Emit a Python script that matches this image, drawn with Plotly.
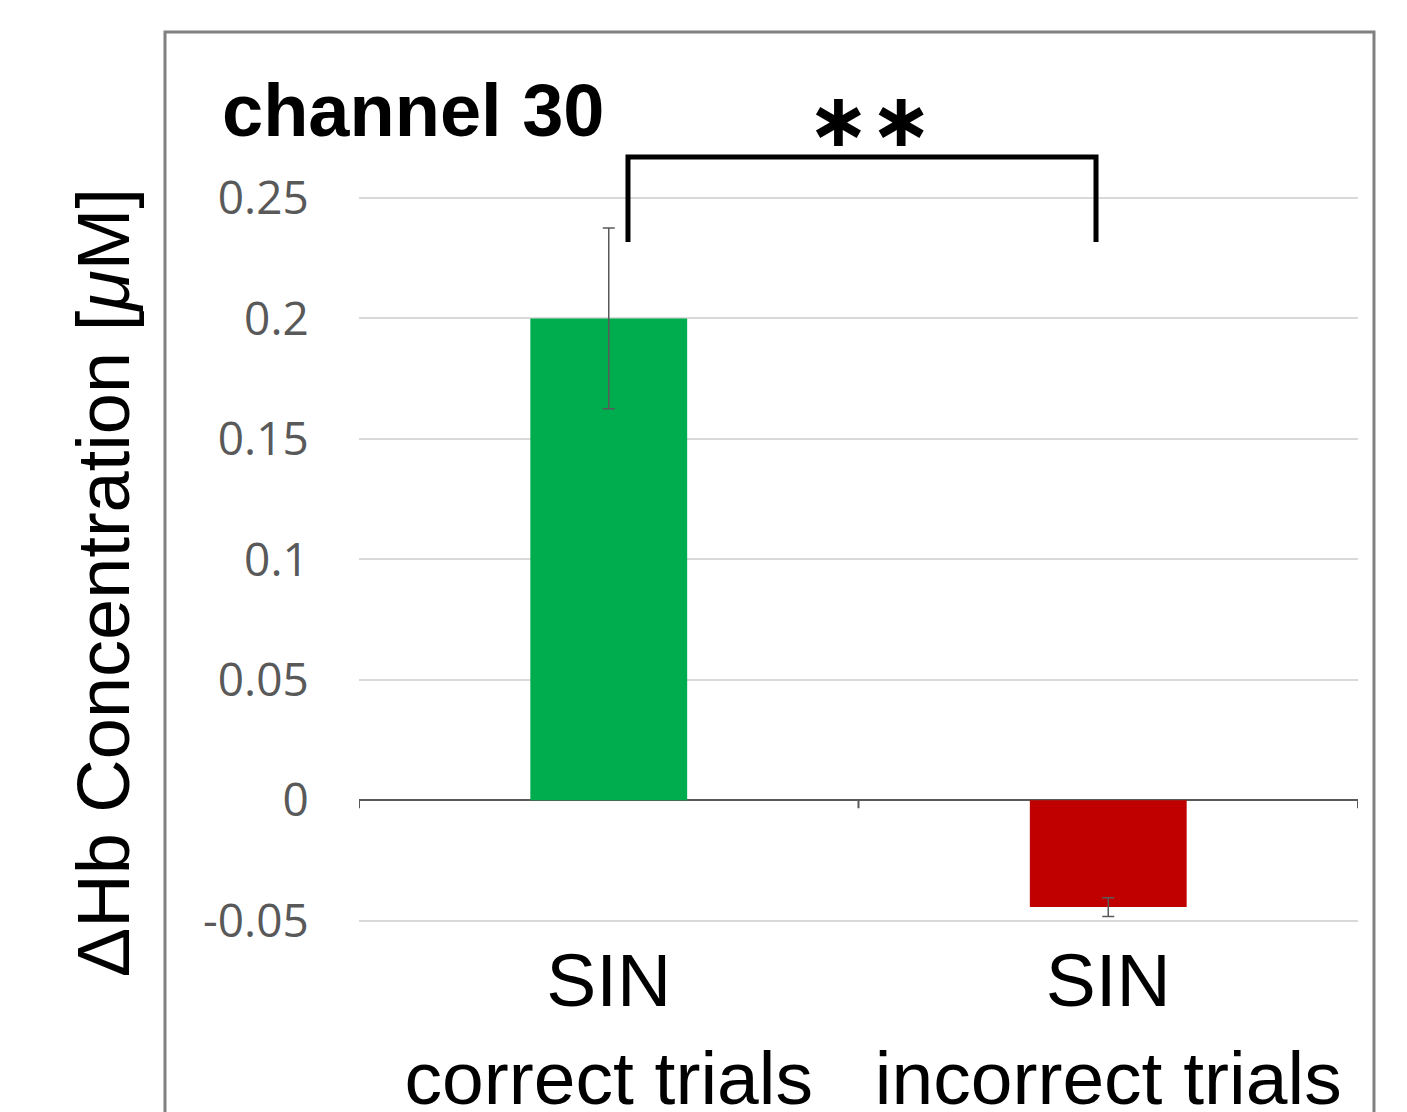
import plotly.graph_objects as go

# ---- data ----
categories = ["SIN<br>correct trials", "SIN<br>incorrect trials"]
values = [0.200, -0.0443]
errors = [0.0375, 0.0039]
bar_colors = ["#00AD4E", "#C00000"]
tick_vals = [-0.05, 0, 0.05, 0.1, 0.15, 0.2, 0.25]
tick_text = ["-0.05", "0", "0.05", "0.1", "0.15", "0.2", "0.25"]
y_title = "ΔHb Concentration [<i>μ</i>M]"
panel_label = "channel 30"
sig_label = "∗∗"

# bracket (significance) geometry in data units
bracket_left = 0.0385
bracket_right = 0.9755
bracket_low = 0.2317
bracket_high = 0.267

fig = go.Figure()
fig.add_trace(go.Bar(
    x=list(range(len(categories))),
    y=values,
    width=0.314,
    marker=dict(color=bar_colors, line=dict(width=0)),
    error_y=dict(type="data", array=errors, visible=True,
                 color="#595959", thickness=1.5, width=6),
    showlegend=False,
))

shapes = []
# frame around the chart
shapes.append(dict(type="rect", xref="paper", yref="paper",
                   x0=-0.1942, x1=1.016, y0=-0.6, y1=1.0,
                   line=dict(color="#808080", width=3), fillcolor="rgba(0,0,0,0)",
                   layer="below"))
# category boundary ticks on the zero line
for i in range(len(categories) + 1):
    shapes.append(dict(type="line", xref="x", yref="y",
                       x0=i - 0.5, x1=i - 0.5, y0=0, y1=-0.0033,
                       line=dict(color="#595959", width=2)))
# significance bracket
shapes.append(dict(type="path", xref="x", yref="y",
                   path=f"M {bracket_left},{bracket_low} L {bracket_left},{bracket_high} "
                        f"L {bracket_right},{bracket_high} L {bracket_right},{bracket_low}",
                   line=dict(color="black", width=5)))

annotations = [
    dict(text=y_title, xref="paper", yref="paper", x=-0.2563, y=0.3817,
         xanchor="center", yanchor="middle", textangle=-90, showarrow=False,
         font=dict(family="Liberation Sans, Arial", size=74, color="black")),
    dict(text=f"<b>{panel_label}</b>", xref="paper", yref="paper", x=-0.1391, y=0.9123,
         xanchor="left", yanchor="middle", showarrow=False,
         font=dict(family="Liberation Sans, Arial", size=74, color="black")),
    dict(text=f"<b>{sig_label}</b>", xref="x", yref="y", x=0.524, y=0.2825,
         xanchor="center", yanchor="middle", showarrow=False,
         font=dict(family="DejaVu Sans", size=75, color="black")),
]

fig.update_layout(
    width=1407, height=1112,
    margin=dict(l=351, r=57, t=24, b=198),
    paper_bgcolor="white", plot_bgcolor="white",
    shapes=shapes, annotations=annotations,
    xaxis=dict(range=[-0.5, 1.5], tickmode="array",
               tickvals=list(range(len(categories))), ticktext=categories,
               showgrid=False, zeroline=False, showline=False, automargin=False,
               ticks="", ticklabelstandoff=8,
               tickfont=dict(family="Liberation Sans, Arial", size=75, color="black")),
    yaxis=dict(range=[-0.0505, 0.3189], tickmode="array",
               tickvals=tick_vals, ticktext=tick_text, automargin=False,
               showgrid=True, gridcolor="#D9D9D9", gridwidth=2,
               zeroline=True, zerolinecolor="#595959", zerolinewidth=2,
               showline=False, ticks="outside", ticklen=40,
               tickcolor="rgba(0,0,0,0)",
               tickfont=dict(family="Open Sans", size=46, color="#595959")),
)

fig.write_html("out.html")
